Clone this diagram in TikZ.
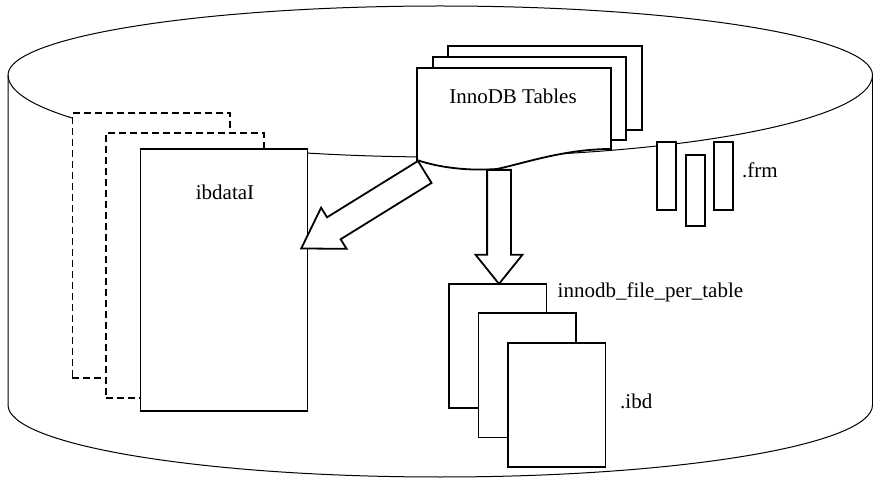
\documentclass[tikz,border=0pt]{standalone}
\usepackage{fontspec}
\setmainfont{Liberation Serif}
\usetikzlibrary{shapes.arrows,calc}
\begin{document}
\begin{tikzpicture}[x=1pt,y=-1pt,
  cyl/.style={line width=1pt},
  box/.style={draw, line width=1.8pt, fill=white, inner sep=0pt, anchor=north west},
  dbox/.style={draw, line width=1.8pt, fill=white, inner sep=0pt, anchor=north west, dash pattern=on 7pt off 4pt},
  docpage/.style={draw, line width=1.8pt, fill=white},
  lbl/.style={font=\fontsize{21}{24}\selectfont, inner sep=0pt},
  blk/.style={single arrow, draw, line width=1.8pt, fill=white, inner xsep=0pt, anchor=tail}
]
\useasboundingbox (0,0) rectangle (873,478);
% cylinder
\draw[cyl] (8,75) arc[start angle=180,end angle=0,x radius=432.25pt,y radius=69pt];
\draw[cyl] (8,75) arc[start angle=180,end angle=360,x radius=432.25pt,y radius=82pt];
\draw[cyl] (8,75) -- (8,405) arc[start angle=180,end angle=360,x radius=432.25pt,y radius=72pt] -- (872.5,75);
% ibdata files
\node[dbox, minimum width=157.5pt, minimum height=264.5pt] (ibd3) at (71.5,112.5) {};
\node[dbox, minimum width=158pt, minimum height=265pt] (ibd2) at (105,132) {};
\node[box, minimum width=167pt, minimum height=262pt] (ibd1) at (139.5,148) {};
\node[lbl, anchor=base] (ibdlbl) at (225,200) {ibdataI};
% InnoDB tables documents
\draw[docpage] (448,46) rectangle (642,130);
\draw[docpage] (433,57) rectangle (626,140);
\draw[docpage] (417,160) -- (417,68) -- (611,68) -- (611,149)
  .. controls (565,149) and (525,163) .. (497,169)
  .. controls (470,171) and (440,168) .. (417,160) -- cycle;
\node[lbl, anchor=base] (tbl) at (513,104) {InnoDB Tables};
% per-table files
\node[box, minimum width=97.5pt, minimum height=124pt] (f1) at (448,283) {};
\node[box, minimum width=97.5pt, minimum height=124pt] (f2) at (477.5,312.5) {};
\node[box, minimum width=97.5pt, minimum height=124pt] (f3) at (507,342) {};
\node[lbl, anchor=base west] (fpt) at (557.5,298) {innodb\_file\_per\_table};
\node[lbl, anchor=base west] (ibdl) at (620,408) {.ibd};
% frm files
\node[box, minimum width=19pt, minimum height=68pt] (m1) at (656,141) {};
\node[box, minimum width=19pt, minimum height=71pt] (m2) at (685,154) {};
\node[box, minimum width=19pt, minimum height=68pt] (m3) at (713,141) {};
\node[lbl, anchor=base west] (frml) at (742,178) {.frm};
% block arrows
\coordinate (dtail) at (425.5,171.5);
\coordinate (dtip) at (302,248);
\coordinate (vtail) at (499,169);
\coordinate (vtip) at (499,283);
\path let \p1=($(dtip)-(dtail)$), \n1={atan2(\y1,\x1)}, \n2={veclen(\x1,\y1)} in
  node[blk, inner ysep=12pt, minimum height=\n2, single arrow head extend=11.3pt,
       single arrow tip angle=64.5, rotate=\n1] (arrL) at (dtail) {};
\path let \p1=($(vtip)-(vtail)$), \n1={atan2(\y1,\x1)}, \n2={veclen(\x1,\y1)} in
  node[blk, inner ysep=11pt, minimum height=\n2, single arrow head extend=11.5pt,
       single arrow tip angle=77.6, rotate=\n1] (arrD) at (vtail) {};
\end{tikzpicture}
\end{document}
